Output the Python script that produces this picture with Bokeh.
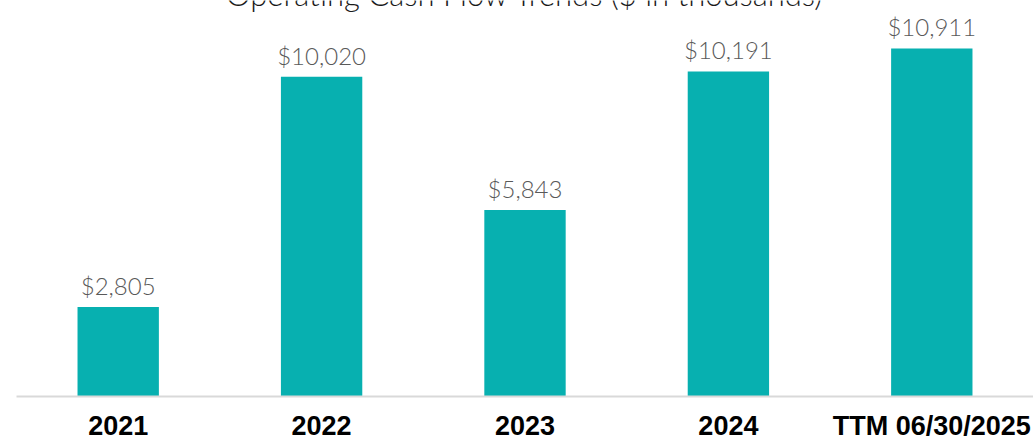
from bokeh.plotting import figure
from bokeh.models import ColumnDataSource, Range1d, LabelSet
from bokeh.core.properties import value
from bokeh.embed import file_html
from bokeh.resources import INLINE

categories = ["2021", "2022", "2023", "2024", "TTM 06/30/2025"]
cash_flow = [2805, 10020, 5843, 10191, 10911]
value_labels = ["$2,805", "$10,020", "$5,843", "$10,191", "$10,911"]
title_text = "Operating Cash Flow Trends ($ in thousands)"

source = ColumnDataSource(data=dict(cat=categories, val=cash_flow, lab=value_labels))

p = figure(x_range=categories, y_range=Range1d(0, 12414),
           width=1033, height=437, output_backend="svg", toolbar_location=None,
           min_border_left=16, min_border_right=0, min_border_top=0, min_border_bottom=0,
           frame_width=1017, frame_height=396)

p.vbar(x="cat", top="val", width=0.4, source=source, fill_color="#07b0b0", line_color=None)

labels = LabelSet(x="cat", y="val", text="lab", source=source, text_align="center",
                  text_baseline="alphabetic", y_offset=12,
                  text_font=value("'Lato Light', Lato"), text_font_size="24px",
                  text_color="#595959")
p.add_layout(labels)

p.text(x=[categories[2]], y=[12260], text=[title_text], text_align="center",
       text_baseline="alphabetic", y_offset=-11,
       text_font=value("'Lato Light', Lato"), text_font_size="31px",
       text_color="#1a1a1a")

p.yaxis.visible = False
p.xgrid.grid_line_color = None
p.ygrid.grid_line_color = None
p.outline_line_color = None
p.background_fill_color = "white"
p.border_fill_color = "white"

xa = p.xaxis[0]
xa.axis_line_color = "#d9d9d9"
xa.axis_line_width = 2
xa.major_tick_line_color = None
xa.minor_tick_line_color = None
xa.major_tick_out = 0
xa.major_tick_in = 0
xa.major_label_standoff = 14
xa.major_label_text_font = "Liberation Sans"
xa.major_label_text_font_style = "bold"
xa.major_label_text_font_size = "27px"
xa.major_label_text_color = "#000000"

open("out.html", "w").write(file_html(p, INLINE))
